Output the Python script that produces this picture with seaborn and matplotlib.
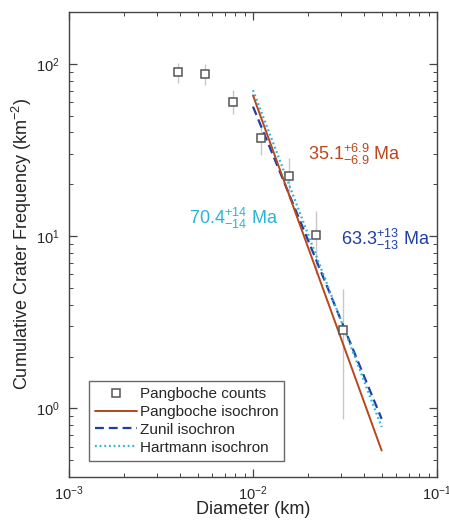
import numpy as np
import matplotlib
matplotlib.use("Agg")
import matplotlib.pyplot as plt
import seaborn as sns

# crater counts (Pangboche)
diam = [0.0039, 0.0055, 0.0078, 0.011, 0.0156, 0.022, 0.031]
freq = [89.9, 87.1, 60.2, 36.9, 22.2, 10.1, 2.85]
freq_lo = [77.6, 75.2, 50.9, 29.6, 16.4, 6.0, 0.87]
freq_hi = [101.0, 99.2, 70.2, 44.2, 28.3, 13.9, 4.96]

# isochrons
iso_d = [0.01, 0.05]
iso_pangboche = [65.6, 0.57]
iso_zunil = [56.4, 0.87]
iso_hartmann = [70.3, 0.78]

c_pang = "#b8471c"
c_zunil = "#1f3fa8"
c_hart = "#2ab4d4"

sns.set_style("ticks")
plt.rcParams["font.family"] = ["Liberation Sans", "DejaVu Sans"]
plt.rcParams["mathtext.fontset"] = "custom"
plt.rcParams["mathtext.rm"] = "Liberation Sans"
plt.rcParams["mathtext.it"] = "Liberation Sans:italic"

fig = plt.figure(figsize=(4.49, 5.2), dpi=100)
ax = fig.add_axes([0.1537, 0.0827, 0.8196, 0.8943])
ax.set_xscale("log")
ax.set_yscale("log")

# error bars
yerr = [np.array(freq) - np.array(freq_lo), np.array(freq_hi) - np.array(freq)]
ax.errorbar(diam, freq, yerr=yerr, fmt="none", ecolor="#c8c8c8", elinewidth=1.0, zorder=1)

sns.lineplot(x=iso_d, y=iso_pangboche, color=c_pang, lw=1.4, ax=ax,
             label="Pangboche isochron", zorder=3)
sns.lineplot(x=iso_d, y=iso_zunil, color=c_zunil, lw=1.6, linestyle=(0, (4, 2.2)), ax=ax,
             label="Zunil isochron", zorder=2)
sns.lineplot(x=iso_d, y=iso_hartmann, color=c_hart, lw=1.6, linestyle=(0, (0.8, 1.3)), ax=ax,
             label="Hartmann isochron", zorder=2)
ax.plot(diam, freq, ls="none", marker="s", ms=5.5, mfc="white", mec="#555555", mew=1.1,
        label="Pangboche counts", zorder=4)

ax.set_xlim(1e-3, 1e-1)
ax.set_ylim(0.4, 200)

ax.text(0.0200, 27.5, r"$\mathregular{35.1^{+6.9}_{-6.9}}$ Ma", color=c_pang, fontsize=13, va="baseline")
ax.text(0.00451, 11.7, r"$\mathregular{70.4^{+14}_{-14}}$ Ma", color=c_hart, fontsize=13, va="baseline")
ax.text(0.0301, 8.9, r"$\mathregular{63.3^{+13}_{-13}}$ Ma", color=c_zunil, fontsize=13, va="baseline")

ax.set_xlabel("Diameter (km)", fontsize=13, labelpad=-1)
ax.set_ylabel(r"Cumulative Crater Frequency (km$\mathregular{^{-2}}$)", fontsize=13, labelpad=1)

ax.tick_params(which="both", direction="in", top=True, right=True, color="#444444", labelsize=10.5)
ax.tick_params(which="major", length=6, width=0.9, pad=7)
ax.tick_params(axis="x", which="major", pad=5)
ax.tick_params(which="minor", length=3, width=0.7)
for s in ax.spines.values():
    s.set_color("#444444")
    s.set_linewidth(1.0)

h, l = ax.get_legend_handles_labels()
order = [3, 0, 1, 2]
leg = ax.legend([h[i] for i in order], [l[i] for i in order], loc="lower left",
                bbox_to_anchor=(0.055, 0.035), fontsize=11, frameon=True, fancybox=False,
                edgecolor="#444444", handlelength=2.7, handletextpad=0.2, labelspacing=0.25,
                borderpad=0.4, borderaxespad=0)
leg.get_frame().set_linewidth(1.0)

fig.savefig("out.png", dpi=100)
